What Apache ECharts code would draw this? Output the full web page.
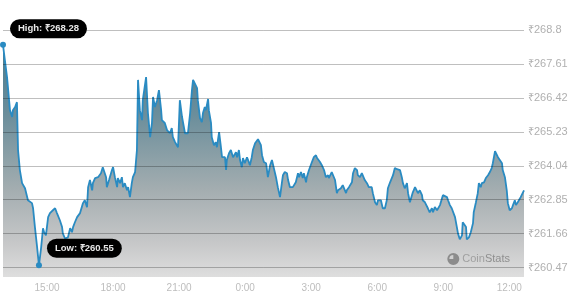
<!DOCTYPE html>
<html>
<head>
<meta charset="utf-8">
<script src="https://cdn.jsdelivr.net/npm/echarts@6/dist/echarts.min.js"></script>
<style>
html,body{margin:0;padding:0;background:#fff;}
#chart{width:572px;height:300px;}
</style>
</head>
<body>
<div id="chart"></div>
<script>
// minutes elapsed since 13:00 (start of the window)
const minutes = [0,5,11,19,25,27,33,38,41,46,52,60,68,79,82,87,93,98,104,109,112,117,123,128,136,142,147,155,161,163,169,174,177,183,188,191,196,202,210,215,218,223,229,232,237,243,245,251,259,267,272,275,281,283,289,297,300,305,311,313,319,324,327,332,338,341,346,351,354,360,365,368,373,379,381,390,395,401,406,409,414,420,425,431,433,441,447,450,455,460,463,469,474,477,482,488,490,496,501,504,510,515,518,523,529,531,537,542,545,550,553,559,561,567,569,575,580,583,589,594,597,599,605,608,610,616,621,627,629,635,638,643,646,651,654,659,665,668,673,678,681,687,695,703,706,711,717,722,728,733,738,744,747,749,755,760,763,768,774,777,782,787,790,798,804,807,812,815,817,820,826,828,834,842,847,853,856,864,869,875,880,886,888,896,899,905,910,913,921,926,929,935,937,943,951,954,959,965,967,973,978,981,986,992,997,1005,1008,1014,1019,1022,1030,1035,1041,1046,1049,1055,1060,1063,1068,1074,1082,1087,1090,1095,1101,1104,1109,1114,1117,1123,1128,1131,1136,1142,1144,1150,1155,1158,1163,1169,1172,1177,1183,1185,1191,1196,1199,1204,1210,1213,1218,1223,1226,1232,1237,1240,1245,1251,1253,1256,1262,1264,1270,1275,1281,1283,1289,1294,1297,1302,1305,1311,1316,1322,1327,1332,1335,1341,1346,1349,1354,1360,1362,1368,1373,1376,1381,1387,1390,1395,1398,1403,1406,1411,1414,1420];
const prices = [268.28,267.75,267.15,265.99,265.75,265.99,266.10,266.27,264.59,263.89,263.43,263.25,262.83,262.73,262.55,261.89,261.18,260.55,261.18,261.85,261.71,261.60,262.24,262.38,262.48,262.55,262.38,262.13,261.89,261.67,261.49,261.49,261.53,261.85,261.71,261.89,262.06,262.24,262.38,262.41,262.73,262.83,262.59,263.29,263.54,263.18,263.43,263.61,263.64,263.78,263.99,264.06,263.64,263.29,263.54,263.89,263.99,263.64,263.29,263.61,263.43,263.64,263.29,263.43,263.18,263.29,262.94,263.43,263.64,263.82,264.59,267.05,265.99,265.64,266.34,267.15,265.89,265.04,265.54,266.45,266.10,266.34,266.69,265.99,265.64,265.54,265.29,265.36,265.18,265.36,265.04,264.87,264.94,264.69,266.34,265.75,265.82,265.18,265.11,265.18,265.89,266.69,267.05,267.12,266.76,266.34,265.71,265.57,265.89,266.10,265.99,266.38,265.99,265.54,265.04,264.76,264.87,264.69,265.22,264.69,264.34,264.31,264.34,263.89,264.24,264.48,264.59,264.34,264.41,264.52,264.34,264.59,264.24,263.99,264.31,264.13,264.34,264.24,264.06,264.34,264.59,264.83,264.97,264.76,264.41,264.17,264.13,263.64,264.06,264.24,264.24,263.64,263.71,263.29,262.94,263.43,263.71,263.82,263.78,263.54,263.29,263.22,263.29,263.46,263.78,263.64,263.82,263.78,263.61,263.78,263.46,263.64,263.89,264.17,264.34,264.41,264.31,264.17,264.06,263.89,263.64,263.71,263.61,263.82,263.89,263.54,263.08,263.18,263.25,263.36,263.29,263.08,263.18,263.29,263.46,263.78,263.96,263.89,263.71,263.64,263.78,263.71,263.54,263.43,263.29,263.29,263.08,262.76,262.66,262.83,262.83,262.55,262.55,262.83,263.25,263.46,263.43,263.71,263.96,263.92,263.89,263.64,263.43,263.25,263.43,263.08,262.76,262.83,263.11,263.29,263.36,263.08,263.18,263.01,262.83,262.76,262.73,262.55,262.41,262.55,262.41,262.59,262.48,262.41,262.66,262.73,263.01,263.01,262.94,262.83,262.66,262.55,262.48,262.24,261.89,261.67,261.46,261.60,262.06,262.10,261.89,261.46,261.53,261.71,262.03,262.41,262.76,263.08,263.43,263.29,263.43,263.46,263.61,263.71,263.82,263.96,264.13,264.55,264.48,264.34,264.34,264.13,263.89,263.64,263.18,262.73,262.48,262.55,262.66,262.83,262.66,262.76,262.83,262.94,262.87,263.18];
const startHour = 13;
const xTickMinutes = [120,300,480,660,840,1020,1200,1380];
const yTicks = [260.47,261.66,262.85,264.04,265.23,266.42,267.61,268.8];
const yTickLabels = ['₹260.47','₹261.66','₹262.85','₹264.04','₹265.23','₹266.42','₹267.61','₹268.8'];
const high = {t: 0, p: 268.28, label: 'High: ₹268.28'};
const low = {t: 98, p: 260.55, label: 'Low: ₹260.55'};

const n = Math.min(minutes.length, prices.length);
const seriesData = [];
for (let i = 0; i < n; i++) seriesData.push([minutes[i], prices[i]]);

const lineColor = '#2a8bc2';
const pillLabel = (text, offset) => ({
  show: true, position: 'right', distance: 0, offset: offset,
  formatter: text, backgroundColor: '#000', color: '#e8e8e8',
  fontWeight: 'bold', fontSize: 9.5, fontFamily: 'Liberation Sans, Arial, sans-serif',
  padding: [5, 8, 4, 8], borderRadius: 10
});

const chart = echarts.init(document.getElementById('chart'), null, {renderer: 'canvas'});
chart.setOption({
  animation: false,
  backgroundColor: '#fff',
  grid: {left: 3, right: 48, top: 30, bottom: 23},
  xAxis: {
    type: 'value', min: 0, max: 1420,
    axisLine: {show: false}, axisTick: {show: false}, splitLine: {show: false},
    axisLabel: {
      customValues: xTickMinutes, margin: 6, color: '#bdbdbd', fontSize: 10,
      fontFamily: 'Liberation Sans, Arial, sans-serif',
      formatter: v => ((startHour + Math.round(v / 60)) % 24) + ':00'
    }
  },
  yAxis: {
    type: 'value', position: 'right', min: 260.14, max: 268.8, z: 5,
    axisLine: {show: false},
    axisTick: {show: false, customValues: yTicks},
    splitLine: {show: true, lineStyle: {color: 'rgba(0,0,0,0.25)', width: 1}},
    axisLabel: {
      customValues: yTicks, margin: 4, color: '#b0b0b0', fontSize: 11,
      fontFamily: 'Liberation Sans, Arial, sans-serif',
      formatter: v => yTickLabels[yTicks.findIndex(t => Math.abs(t - v) < 1e-6)] || ('₹' + v)
    }
  },
  series: [{
    type: 'line', data: seriesData, showSymbol: false, smooth: false,
    lineStyle: {color: lineColor, width: 1.8},
    areaStyle: {
      origin: 'start', opacity: 1,
      color: new echarts.graphic.LinearGradient(0, 0, 0, 1, [
        {offset: 0, color: '#4a7a8d'},
        {offset: 0.3, color: '#6b8e9b'},
        {offset: 0.62, color: '#a3adb0'},
        {offset: 0.85, color: '#c6c7c8'},
        {offset: 1, color: '#dedede'}
      ])
    },
    markPoint: {
      symbol: 'circle', symbolSize: 6,
      itemStyle: {color: lineColor},
      data: [
        {coord: [high.t, high.p], label: pillLabel(high.label, [4, -16])},
        {coord: [low.t, low.p], label: pillLabel(low.label, [5, -17])}
      ]
    }
  }],
  graphic: [{
    type: 'group', right: 62, bottom: 35, z: 100, zlevel: 1,
    children: [
      {type: 'circle', z: 100, shape: {cx: 6, cy: 6, r: 5}, style: {fill: '#d0d0d0', stroke: '#8c8c8c', lineWidth: 2}},
      {type: 'sector', z: 101, shape: {cx: 6, cy: 6, r: 5, r0: 0, startAngle: -Math.PI / 2, endAngle: Math.PI}, style: {fill: '#8c8c8c'}},
      {type: 'text', z: 101, x: 15, y: 0, style: {
        text: '{a|Coin}{b|Stats}',
        rich: {
          a: {fill: '#a0a0a0', fontSize: 11, fontFamily: 'Liberation Sans, Arial, sans-serif'},
          b: {fill: '#8f8f8f', fontSize: 11, fontFamily: 'Liberation Sans, Arial, sans-serif'}
        }
      }}
    ]
  }]
});
</script>
</body>
</html>
